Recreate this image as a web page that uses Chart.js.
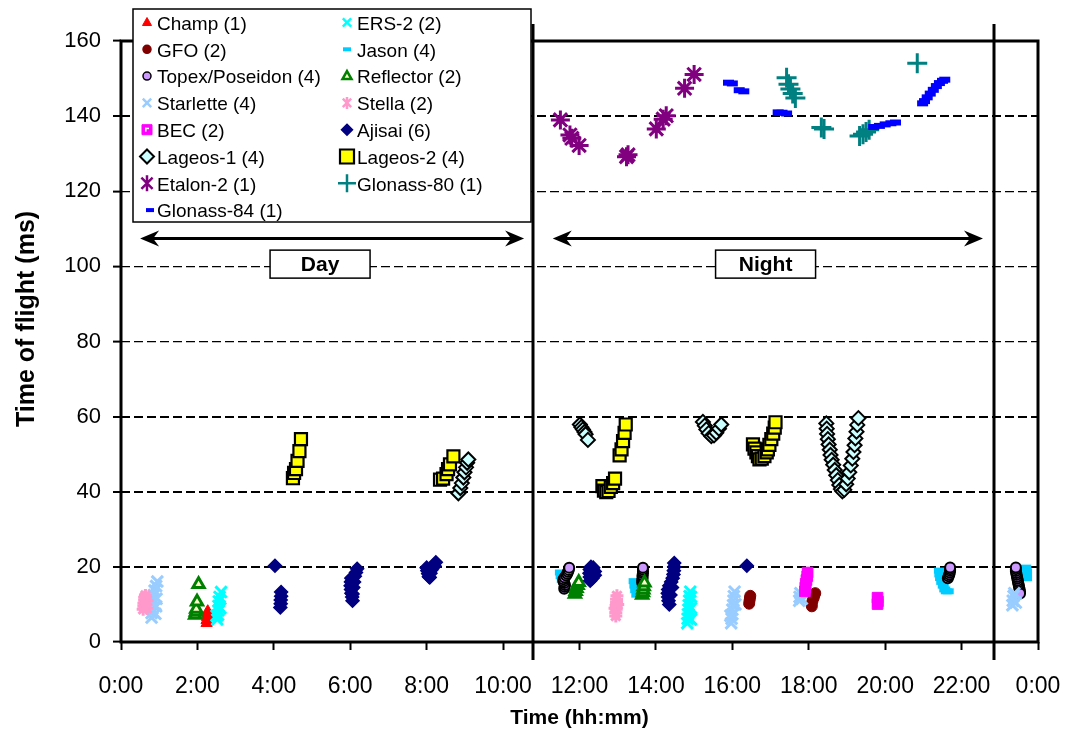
<!DOCTYPE html>
<html><head><meta charset="utf-8">
<style>html,body{margin:0;padding:0;background:#fff;}canvas{display:block;}</style>
<script src="https://cdn.jsdelivr.net/npm/chart.js@4.4.1/dist/chart.umd.min.js"></script>
</head><body>
<canvas id="c" width="1067" height="734"></canvas>
<script>
const FONT = "'Liberation Sans', Arial, Helvetica, sans-serif";

const xTickValues = [0,2,4,6,8,10,12,14,16,18,20,22,24];
const xTickLabels = ['0:00','2:00','4:00','6:00','8:00','10:00','12:00','14:00','16:00','18:00','20:00','22:00','0:00'];
const yTickValues = [0,20,40,60,80,100,120,140,160];
const yTickLabels = ['0','20','40','60','80','100','120','140','160'];
const xTitle = 'Time (hh:mm)';
const yTitle = 'Time of flight (ms)';

const seriesLabels = ['Champ (1)','ERS-2 (2)','GFO (2)','Jason (4)','Topex/Poseidon (4)','Reflector (2)',
  'Starlette (4)','Stella (2)','BEC (2)','Ajisai (6)','Lageos-1 (4)','Lageos-2 (4)',
  'Etalon-2 (1)','Glonass-80 (1)','Glonass-84 (1)'];

// [time (h), time of flight (ms)]
const champ = [[2.24,5.0],[2.24,5.8],[2.25,6.6],[2.26,7.4],[2.27,8.2]];
const ers2 = [[2.52,6],[2.54,7.2],[2.55,8.4],[2.55,9.6],[2.56,10.8],[2.58,12],[2.62,13.3],[2.5,7],[2.6,9],
  [14.82,5],[14.83,6.2],[14.84,7.4],[14.85,8.6],[14.86,9.8],[14.87,11],[14.88,12.2],[14.9,13.4],[14.92,6],[14.92,9],[14.92,12]];
const gfo = [[16.44,10.2],[16.45,11],[16.46,11.7],[16.47,12.3],
  [18.08,9.5],[18.08,10.2],[18.1,11],[18.13,11.8],[18.15,12.5],[18.17,13]];
const jason = [[11.5,18.5],[11.52,17.5],[11.55,16.5],
  [13.43,16.2],[13.45,15],[13.47,13.8],[13.5,12.6],
  [21.42,19],[21.43,18],[21.45,17],[21.48,16],[21.52,15],[21.56,14],[21.6,13.5],[21.65,13.5],
  [23.68,19.8],[23.7,18.8],[23.7,17.8],[23.7,17]];
const topex = [[11.6,14.2],[11.61,14.7],[11.62,15.2],[11.6,15.7],[11.58,16.2],[11.58,16.7],[11.61,17.2],[11.65,17.7],[11.68,18.2],[11.7,18.7],[11.72,19.2],[11.73,19.8],
  [13.64,15.8],[13.64,16.3],[13.65,16.8],[13.65,17.3],[13.65,17.8],[13.66,18.3],[13.66,18.8],[13.66,19.3],[13.66,19.8],
  [21.64,17],[21.66,17.5],[21.68,18],[21.69,18.5],[21.7,19],[21.7,19.4],[21.7,19.85],
  [23.53,13.4],[23.52,13.9],[23.51,14.4],[23.5,14.9],[23.49,15.4],[23.48,15.9],[23.47,16.4],[23.46,16.9],[23.45,17.4],[23.44,17.9],[23.43,18.4],[23.42,18.9],[23.42,19.4],[23.42,19.85],[23.53,12.9]];
const reflector = [[1.94,7.2],[1.96,8],[1.97,8.8],[1.99,10.7],[2.03,15.4],
  [11.88,12.8],[11.9,13.5],[11.92,14.3],[11.95,15.1],[11.98,15.9],
  [13.64,12.5],[13.66,13.2],[13.67,13.9],[13.68,14.8],[13.7,15.8]];
const starlette = [[0.8,6.5],[0.8,7.7],[0.82,8.9],[0.82,10.1],[0.84,11.3],[0.86,12.5],[0.88,13.7],[0.92,14.9],[0.95,16.1],[0.9,7.5],[0.92,9.5],[0.93,11.5],
  [15.97,5],[15.98,6.2],[16.0,7.4],[16.0,8.6],[16.02,9.8],[16.03,11],[16.04,12.2],[16.06,13.4],[15.95,7],[16.08,10],
  [17.75,11],[17.76,12],[17.78,13],[17.82,11.5],
  [23.33,9.8],[23.34,11],[23.36,12.2],[23.38,13],[23.42,10.5]];
const stella = [[0.58,8.7],[0.6,9.5],[0.6,10.3],[0.62,11.1],[0.62,11.9],[0.64,12.4],[0.68,9],[0.68,11],
  [12.95,6.9],[12.95,7.8],[12.96,8.7],[12.96,9.6],[12.97,10.5],[12.97,11.4],[12.98,12.3],[12.93,9],[13.0,10]];
const bec = [[17.9,13.5],[17.91,14.5],[17.92,15.5],[17.94,16.5],[17.96,17.5],[17.97,18.5],
  [19.8,10.1],[19.81,10.8],[19.8,11.8]];
const ajisai = [[4.03,20.3],[4.17,9.2],[4.18,10.2],[4.18,11.2],[4.19,12.2],[4.19,13.3],
  [6.06,11],[6.05,12],[6.03,13],[6.02,14],[6.01,15],[6.02,16],[6.03,17],[6.08,14.5],[6.1,16],[6.12,17.5],[6.15,18.5],[6.18,19.5],[6.06,12.8],
  [8.0,19.8],[8.02,19],[8.04,18.2],[8.06,17.4],[8.08,17.2],[8.1,18.3],[8.12,19.2],[8.15,19.6],[8.2,20.3],[8.24,21.2],
  [12.28,16.3],[12.27,17.3],[12.26,18.3],[12.27,19.3],[12.3,20],[12.36,19.8],[12.4,18.8],[12.4,17.8],[12.34,17],
  [14.35,10],[14.33,11],[14.32,12],[14.31,13],[14.32,14],[14.35,15],[14.4,16],[14.44,17],[14.46,18],[14.47,19],[14.48,20],[14.48,21],[14.38,12.5],[14.42,14.5],
  [16.38,20.3]];
const lageos1 = [[8.83,39.6],[8.88,41],[8.92,42.3],[8.96,43.8],[8.99,45.2],[9.03,46.5],[9.06,47.7],[9.09,48.6],
  [12.01,57.9],[12.05,57.2],[12.09,56.6],[12.13,55.9],[12.16,55.3],[12.22,53.8],
  [15.23,58.6],[15.28,57.6],[15.32,56.6],[15.38,55.6],[15.45,54.8],[15.52,55],[15.58,55.7],[15.65,56.8],[15.71,57.9],
  [18.46,58.2],[18.47,56.8],[18.48,55.4],[18.5,54],[18.52,52.6],[18.55,51.2],[18.57,49.8],[18.6,48.5],[18.64,47.2],[18.68,45.8],[18.72,44.4],[18.76,43.1],[18.8,41.8],[18.84,40.7],[18.88,40.1],
  [18.93,40.5],[18.98,42],[19.02,43.5],[19.06,45.2],[19.1,47],[19.14,48.8],[19.17,50.6],[19.2,52.4],[19.22,54.2],[19.25,56],[19.27,57.8],[19.3,59.6]];
const lageos2 = [[4.5,43.6],[4.53,45],[4.58,46],[4.62,48.2],[4.67,50.8],[4.71,54],
  [8.35,43.2],[8.43,43.5],[8.52,44.7],[8.56,46],[8.61,47.3],[8.7,49.4],
  [12.6,41.5],[12.64,40.3],[12.7,39.9],[12.76,40.2],[12.82,41.3],[12.88,42.3],[12.93,43.5],
  [13.05,49.7],[13.1,51.3],[13.14,53.5],[13.18,55.7],[13.21,57.9],
  [16.54,52.6],[16.58,51.5],[16.63,50.5],[16.67,49.5],[16.71,48.6],[16.77,48.8],[16.84,49.5],[16.9,50.5],[16.93,51.3],[16.97,52.5],[17.02,54],[17.07,55.5],[17.11,57.1],[17.13,58.5]];
const etalon2 = [[11.5,139],[11.75,135],[11.8,134.1],[11.99,132.2],[13.23,129.2],[13.27,129.7],
  [14.01,136.6],[14.19,139.2],[14.27,140.1],[14.75,147.4],[15.0,151.1]];
const glonass80 = [[17.42,150.2],[17.47,148.5],[17.52,147.2],[17.58,146],[17.65,144.8],
  [18.33,137],[18.4,136.6],[19.33,134.7],[19.42,135.2],[19.5,135.8],[19.58,136.4],[20.84,154.1]];
const glonass84 = [[15.9,148.9],[16.0,148.7],[16.18,146.9],[16.3,146.6],[17.2,141],[17.3,140.9],[17.42,140.7],
  [19.7,137.1],[19.85,137.4],[20.0,137.8],[20.15,138.1],[20.27,138.3],
  [20.98,143.4],[21.03,144],[21.1,145],[21.18,146],[21.26,147],[21.34,148],[21.42,148.8],[21.5,149.4],[21.56,149.7]];

const seriesData = [champ, ers2, gfo, jason, topex, reflector, starlette, stella, bec, ajisai, lageos1, lageos2, etalon2, glonass80, glonass84];

// marker styles (kept apart from data)
const styles = [
  {ps:'triangle', r:6.5, bg:'#FF0000', bc:'#FF0000', bw:1,   lr:5},
  {ps:'crossRot', r:8,   bg:'#00FFFF', bc:'#00FFFF', bw:3,   lr:6},
  {ps:'circle',   r:5.5, bg:'#800000', bc:'#800000', bw:1,   lr:4},
  {ps:'line',     r:5.5, bg:'#00CCFF', bc:'#00CCFF', bw:6,   lr:4},
  {ps:'circle',   r:5,   bg:'#CC99FF', bc:'#000000', bw:2,   lr:4},
  {ps:'triangle', r:6.5, bg:'#FFFFCC', bc:'#008000', bw:3,   lr:5},
  {ps:'crossRot', r:8,   bg:'#99CCFF', bc:'#99CCFF', bw:3,   lr:6},
  {ps:'star',     r:6.5, bg:'#FF99CC', bc:'#FF99CC', bw:3,   lr:6},
  {ps:'rect',     r:7.5, bg:'#FF00FF', bc:'#FF00FF', bw:1,   lr:5},
  {ps:'rectRot',  r:6.5, bg:'#000080', bc:'#000080', bw:1.5, lr:5.5},
  {ps:'rectRot',  r:7,   bg:'#CCFFFF', bc:'#000000', bw:2,   lr:7},
  {ps:'rect',     r:8.5, bg:'#FFFF00', bc:'#000000', bw:2.2, lr:7},
  {ps:'star',     r:9.5, bg:'#800080', bc:'#800080', bw:3,   lr:8},
  {ps:'cross',    r:10,  bg:'#008080', bc:'#008080', bw:3,   lr:9},
  {ps:'line',     r:5.5, bg:'#0000FF', bc:'#0000FF', bw:6,   lr:4}
];

// annotation values (data units)
const dividers = [10.78, 22.86];
const dividerSpan = [164.5, -4.8];
const periodArrows = [{label:'Day', from:0.5, to:10.55, mid:5.21}, {label:'Night', from:11.3, to:22.56, mid:16.87}];
const arrowLevel = 107.6;
const boxLevel = 100.6;
const yTitleLevel = 86;

const datasets = seriesData.map((arr, i) => ({
  label: seriesLabels[i],
  data: arr.map(p => ({x:p[0], y:p[1]})),
  pointStyle: styles[i].ps,
  pointRadius: styles[i].r,
  pointBackgroundColor: styles[i].bg,
  pointBorderColor: styles[i].bc,
  pointBorderWidth: styles[i].bw,
  showLine: false,
  order: -i
}));

function drawMarker(ctx, s, x, y, r) {
  ctx.save();
  ctx.fillStyle = s.bg; ctx.strokeStyle = s.bc; ctx.lineWidth = Math.min(s.bw, 2.5);
  ctx.beginPath();
  switch (s.ps) {
    case 'triangle':
      ctx.moveTo(x, y - r); ctx.lineTo(x + r*0.9, y + r*0.6); ctx.lineTo(x - r*0.9, y + r*0.6); ctx.closePath();
      ctx.fill(); ctx.stroke(); break;
    case 'circle':
      ctx.lineWidth = 1.5; ctx.arc(x, y, r, 0, Math.PI*2); ctx.fill(); ctx.stroke(); break;
    case 'crossRot':
      ctx.moveTo(x-r*0.7,y-r*0.7); ctx.lineTo(x+r*0.7,y+r*0.7); ctx.moveTo(x+r*0.7,y-r*0.7); ctx.lineTo(x-r*0.7,y+r*0.7); ctx.stroke(); break;
    case 'cross':
      ctx.moveTo(x,y-r); ctx.lineTo(x,y+r); ctx.moveTo(x-r,y); ctx.lineTo(x+r,y); ctx.stroke(); break;
    case 'star':
      ctx.moveTo(x,y-r); ctx.lineTo(x,y+r);
      ctx.moveTo(x-r*0.7,y-r*0.7); ctx.lineTo(x+r*0.7,y+r*0.7); ctx.moveTo(x+r*0.7,y-r*0.7); ctx.lineTo(x-r*0.7,y+r*0.7); ctx.stroke(); break;
    case 'rect':
      ctx.rect(x-r, y-r, 2*r, 2*r); ctx.fill(); ctx.stroke(); break;
    case 'rectRot':
      ctx.moveTo(x, y-r); ctx.lineTo(x+r, y); ctx.lineTo(x, y+r); ctx.lineTo(x-r, y); ctx.closePath(); ctx.fill(); ctx.stroke(); break;
    case 'line':
      ctx.lineWidth = 4; ctx.moveTo(x-r, y); ctx.lineTo(x+r, y); ctx.stroke(); break;
  }
  ctx.restore();
}

const overlay = {
  id: 'overlay',
  afterDatasetsDraw(chart) {
    const {ctx, chartArea: a, scales: {x: xs, y: ys}} = chart;
    ctx.save();
    // plot frame
    ctx.strokeStyle = '#000'; ctx.lineWidth = 3;
    ctx.strokeRect(a.left, a.top, a.right - a.left, a.bottom - a.top);
    // day / night dividers
    dividers.forEach(h => {
      const px = Math.round(xs.getPixelForValue(h));
      ctx.beginPath(); ctx.moveTo(px, ys.getPixelForValue(dividerSpan[0])); ctx.lineTo(px, ys.getPixelForValue(dividerSpan[1])); ctx.stroke();
    });
    // arrows + labels
    const ay = Math.round(ys.getPixelForValue(arrowLevel)) + 0.5;
    periodArrows.forEach(pa => {
      const x1 = xs.getPixelForValue(pa.from), x2 = xs.getPixelForValue(pa.to);
      ctx.lineWidth = 3; ctx.strokeStyle = '#000'; ctx.fillStyle = '#000';
      ctx.beginPath(); ctx.moveTo(x1 + 10, ay); ctx.lineTo(x2 - 10, ay); ctx.stroke();
      [[x1, 1], [x2, -1]].forEach(([hx, d]) => {
        ctx.beginPath(); ctx.moveTo(hx, ay); ctx.lineTo(hx + d*19, ay - 8); ctx.lineTo(hx + d*13, ay); ctx.lineTo(hx + d*19, ay + 8); ctx.closePath(); ctx.fill();
      });
      const cx = xs.getPixelForValue(pa.mid), cy = ys.getPixelForValue(boxLevel);
      ctx.fillStyle = '#fff'; ctx.fillRect(cx - 50, cy - 14, 100, 28);
      ctx.lineWidth = 1.5; ctx.strokeRect(cx - 50, cy - 14, 100, 28);
      ctx.fillStyle = '#000'; ctx.font = 'bold 21px ' + FONT; ctx.textAlign = 'center'; ctx.textBaseline = 'middle';
      ctx.fillText(pa.label, cx, cy + 1);
    });
    // y-axis title
    ctx.save();
    ctx.translate(27, ys.getPixelForValue(yTitleLevel));
    ctx.rotate(-Math.PI / 2);
    ctx.fillStyle = '#000'; ctx.font = 'bold 25px ' + FONT; ctx.textAlign = 'center'; ctx.textBaseline = 'middle';
    ctx.fillText(yTitle, 0, 0);
    ctx.restore();
    // legend box
    const L = {x:133, y:9, w:398, h:213};
    ctx.fillStyle = '#fff'; ctx.fillRect(L.x, L.y, L.w, L.h);
    ctx.lineWidth = 1.5; ctx.strokeStyle = '#000'; ctx.strokeRect(L.x, L.y, L.w, L.h);
    ctx.font = '19px ' + FONT; ctx.textAlign = 'left'; ctx.textBaseline = 'middle';
    seriesLabels.forEach((lab, i) => {
      const col = i % 2, row = Math.floor(i / 2);
      const ry = 24.5 + row * 26.8;
      const mx = (col === 0 ? 147 : 347) + (i === 14 ? 3 : 0);
      const tx = col === 0 ? 157 : 357;
      const s = styles[i];
      drawMarker(ctx, s, mx, ry - 2, s.lr);
      if (i === 8) { ctx.fillStyle = '#fff'; ctx.fillRect(mx - 2, ry - 4, 4, 1.5); ctx.fillRect(mx - 2, ry - 4, 1.5, 4); }
      ctx.fillStyle = '#000';
      ctx.fillText(lab, tx, ry);
    });
    ctx.restore();
  }
};

const thickLevels = [20, 40, 60, 140];

new Chart(document.getElementById('c'), {
  type: 'scatter',
  data: { datasets },
  options: {
    responsive: false, animation: false, devicePixelRatio: 1,
    layout: { padding: { top: 41, right: 29, left: 0, bottom: 0 } },
    plugins: { legend: { display: false }, tooltip: { enabled: false } },
    scales: {
      x: {
        type: 'linear', min: 0, max: 24,
        afterBuildTicks: s => { s.ticks = xTickValues.map(v => ({value: v})); },
        ticks: { callback: (v, i) => xTickLabels[i], font: {family: FONT, size: 23}, color: '#000', padding: 23, maxRotation: 0, autoSkip: false },
        grid: { drawOnChartArea: false, drawTicks: true, tickLength: 8, tickColor: '#000', tickWidth: 2 },
        border: { display: false },
        title: { display: true, text: xTitle, font: {family: FONT, size: 21, weight: 'bold'}, color: '#000', padding: {top: 0, bottom: 3} },
        afterFit: s => { s.height = 92; s.paddingLeft = 0; s.paddingRight = 0; }
      },
      y: {
        min: 0, max: 160,
        afterBuildTicks: s => { s.ticks = yTickValues.map(v => ({value: v})); },
        ticks: { callback: (v, i) => yTickLabels[i], font: {family: FONT, size: 22}, color: '#000', padding: 12 },
        grid: {
          color: c => (c.tick && (c.tick.value === 0 || c.tick.value === 160)) ? 'rgba(0,0,0,0)' : '#000',
          lineWidth: c => (c.tick && thickLevels.includes(c.tick.value)) ? 2 : 1.2,
          drawTicks: true, tickLength: 8, tickColor: '#000', tickWidth: 2, tickBorderDash: []
        },
        border: { display: false, dash: [9, 4] },
        title: { display: false },
        afterFit: s => { s.width = 121; s.paddingTop = 0; s.paddingBottom = 0; }
      }
    }
  },
  plugins: [overlay]
});
</script>
</body></html>
